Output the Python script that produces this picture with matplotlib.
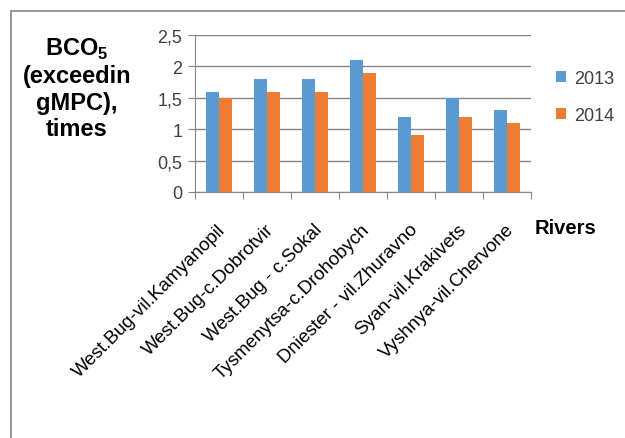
import numpy as np
import matplotlib
matplotlib.use("Agg")
from matplotlib import pyplot as plt
from matplotlib.patches import Rectangle

plt.rcParams['font.family'] = ['Liberation Sans', 'DejaVu Sans']
plt.rcParams['mathtext.fontset'] = 'custom'
plt.rcParams['mathtext.rm'] = 'Liberation Sans'
plt.rcParams['mathtext.bf'] = 'Liberation Sans:bold'

rivers = ["West.Bug-vil.Kamyanopil", "West.Bug-c.Dobrotvir", "West.Bug - c.Sokal",
          "Tysmenytsa-c.Drohobych", "Dniester - vil.Zhuravno", "Syan-vil.Krakivets",
          "Vyshnya-vil.Chervone"]
bco5_2013 = [1.6, 1.8, 1.8, 2.1, 1.2, 1.5, 1.3]
bco5_2014 = [1.5, 1.6, 1.6, 1.9, 0.9, 1.2, 1.1]
yticks = [0, 0.5, 1, 1.5, 2, 2.5]
ytick_labels = ["0", "0,5", "1", "1,5", "2", "2,5"]

blue = '#5B9BD5'
orange = '#ED7D31'
grey = '#868686'

fig = plt.figure(figsize=(6.25, 4.39), dpi=100)
ax = fig.add_axes([0.312, 0.5604, 0.5376, 0.3576])

# outer chart frame
fig.patches.append(Rectangle((11/625, -0.1), 1.2, 1.1 - 12/439, transform=fig.transFigure,
                             fill=False, edgecolor=grey, linewidth=1.2))

x = np.arange(len(rivers))
w = 0.27
ax.bar(x - w/2, bco5_2013, w, color=blue, label='2013', zorder=3)
ax.bar(x + w/2, bco5_2014, w, color=orange, label='2014', zorder=3)

ax.set_xlim(-0.5, len(rivers) - 0.5)
ax.set_ylim(0, 2.5)
ax.set_yticks(yticks)
ax.set_yticklabels(ytick_labels, fontsize=13, color='#404040')
ax.yaxis.grid(True, color=grey, linewidth=1, zorder=0)
ax.tick_params(axis='y', length=5, color=grey, pad=4)

# category separators as ticks on the x axis
ax.set_xticks(np.arange(len(rivers) + 1) - 0.5)
ax.set_xticklabels([])
ax.tick_params(axis='x', length=5, color=grey)
for i, name in enumerate(rivers):
    ax.annotate(name, xy=(i, 0), xycoords=('data', 'axes fraction'),
                xytext=(3, -25), textcoords='offset points',
                rotation=45, rotation_mode='anchor', ha='right', va='center',
                fontsize=13.5, color='black')

for side in ['top', 'right']:
    ax.spines[side].set_visible(False)
ax.spines['left'].set_color(grey)
ax.spines['bottom'].set_color(grey)

fig.text(77/625, 1 - 89/439, "BCO$_{\\mathbf{5}}$\n(exceedin\ngMPC),\ntimes", ha='center', va='center',
         fontsize=17, fontweight='bold', linespacing=1.2)
fig.text(565/625, 1 - 228/439, "Rivers", ha='center', va='center',
         fontsize=14.5, fontweight='bold')

leg = ax.legend(loc='upper left', bbox_to_anchor=(1.025, 0.88), frameon=False,
                fontsize=13, handlelength=0.6, handleheight=0.6, labelspacing=1.1,
                handletextpad=0.4)
for t in leg.get_texts():
    t.set_color('#404040')

fig.savefig('out.png', dpi=100)
